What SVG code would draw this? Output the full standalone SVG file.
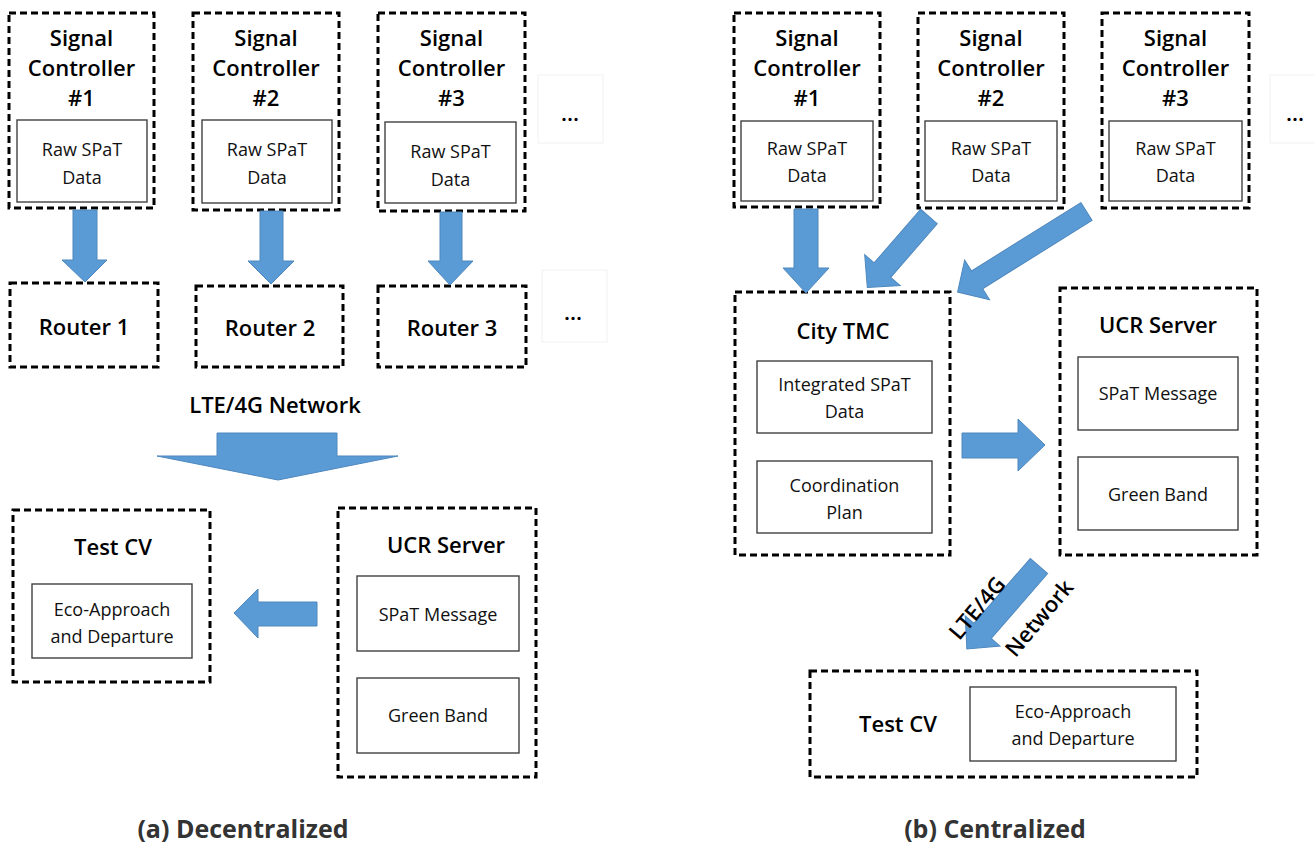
<svg xmlns="http://www.w3.org/2000/svg" width="1315" height="846" viewBox="0 0 1315 846">
  <style>
    .dash { fill: #fff; stroke: #000; stroke-width: 3; stroke-dasharray: 7 4; }
    .inner { fill: #fff; stroke: #404040; stroke-width: 1.4; }
    .faint { fill: none; stroke: #f1f1f1; stroke-width: 1; }
    .arrow { fill: #5B9BD5; stroke: #4F88BE; stroke-width: 1; }
    text { font-family: "Open Sans", "Liberation Sans", sans-serif; text-anchor: middle; }
    .ttl { font-size: 22px; font-weight: 600; fill: #000; }
    .txt { font-size: 18px; font-weight: 400; fill: #111; }
    .cap { font-size: 25px; font-weight: 700; fill: #333; }
  </style>

  <!-- ===== (a) Decentralized ===== -->
  <g id="a-sc1">
    <rect class="dash" x="9" y="13" width="145" height="195"/>
    <text class="ttl" x="81.5" y="46">Signal</text>
    <text class="ttl" x="81.5" y="76">Controller</text>
    <text class="ttl" x="81.5" y="106">#1</text>
    <rect class="inner" x="17" y="120" width="130" height="82"/>
    <text class="txt" x="82" y="156">Raw SPaT</text>
    <text class="txt" x="82" y="184">Data</text>
  </g>
  <g id="a-sc2">
    <rect class="dash" x="193" y="13" width="146" height="197"/>
    <text class="ttl" x="266" y="46">Signal</text>
    <text class="ttl" x="266" y="76">Controller</text>
    <text class="ttl" x="266" y="106">#2</text>
    <rect class="inner" x="202" y="120" width="130" height="83"/>
    <text class="txt" x="267" y="156">Raw SPaT</text>
    <text class="txt" x="267" y="184">Data</text>
  </g>
  <g id="a-sc3">
    <rect class="dash" x="378" y="13" width="147" height="198"/>
    <text class="ttl" x="451.5" y="46">Signal</text>
    <text class="ttl" x="451.5" y="76">Controller</text>
    <text class="ttl" x="451.5" y="106">#3</text>
    <rect class="inner" x="385" y="122" width="131" height="81"/>
    <text class="txt" x="450.5" y="158">Raw SPaT</text>
    <text class="txt" x="450.5" y="186">Data</text>
  </g>
  <g id="a-more-sc">
    <rect class="faint" x="538" y="75" width="65" height="68"/>
    <text class="ttl" x="570" y="121">...</text>
  </g>

  <g id="a-router1">
    <rect class="dash" x="10" y="283" width="148" height="84"/>
    <text class="ttl" x="84" y="335">Router 1</text>
  </g>
  <g id="a-router2">
    <rect class="dash" x="196" y="286" width="147" height="81"/>
    <text class="ttl" x="270" y="336">Router 2</text>
  </g>
  <g id="a-router3">
    <rect class="dash" x="378" y="286" width="148" height="81"/>
    <text class="ttl" x="452" y="336">Router 3</text>
  </g>
  <g id="a-more-router">
    <rect class="faint" x="542" y="270" width="65" height="72"/>
    <text class="ttl" x="573" y="320">...</text>
  </g>

  <g id="a-test-cv">
    <rect class="dash" x="13" y="510" width="197" height="172"/>
    <text class="ttl" x="113" y="555">Test CV</text>
    <rect class="inner" x="32" y="584" width="160" height="74"/>
    <text class="txt" x="112" y="616">Eco-Approach</text>
    <text class="txt" x="112" y="643">and Departure</text>
  </g>
  <g id="a-ucr-server">
    <rect class="dash" x="338" y="508" width="198" height="269"/>
    <text class="ttl" x="446" y="553">UCR Server</text>
    <rect class="inner" x="357" y="576" width="162" height="75"/>
    <text class="txt" x="438" y="621">SPaT Message</text>
    <rect class="inner" x="357" y="678" width="162" height="75"/>
    <text class="txt" x="438" y="722">Green Band</text>
  </g>

  <g id="a-connectors">
    <polygon class="arrow" points="73,210 97,210 97,260 107,260 85,282 62,260 73,260"/>
    <polygon class="arrow" points="260,211 283,211 283,261 294,261 271,284 248,261 260,261"/>
    <polygon class="arrow" points="440,212 462,212 462,261 473,261 450,285 428,261 440,261"/>
    <polygon class="arrow" points="217,433 337,433 337,456 398,456 278,480 157,456 217,456"/>
    <polygon class="arrow" points="317,602 317,626 258,626 258,638 234,613 258,589 258,602"/>
  </g>
  <text class="ttl" x="275" y="413">LTE/4G Network</text>
  <text class="cap" x="243" y="838">(a) Decentralized</text>

  <!-- ===== (b) Centralized ===== -->
  <g id="b-sc1">
    <rect class="dash" x="734" y="13" width="146" height="194"/>
    <text class="ttl" x="807" y="46">Signal</text>
    <text class="ttl" x="807" y="76">Controller</text>
    <text class="ttl" x="807" y="106">#1</text>
    <rect class="inner" x="741" y="121" width="132" height="80"/>
    <text class="txt" x="807" y="155">Raw SPaT</text>
    <text class="txt" x="807" y="182">Data</text>
  </g>
  <g id="b-sc2">
    <rect class="dash" x="918" y="13" width="146" height="195"/>
    <text class="ttl" x="991" y="46">Signal</text>
    <text class="ttl" x="991" y="76">Controller</text>
    <text class="ttl" x="991" y="106">#2</text>
    <rect class="inner" x="925" y="121" width="132" height="80"/>
    <text class="txt" x="991" y="155">Raw SPaT</text>
    <text class="txt" x="991" y="182">Data</text>
  </g>
  <g id="b-sc3">
    <rect class="dash" x="1102" y="13" width="147" height="195"/>
    <text class="ttl" x="1175.5" y="46">Signal</text>
    <text class="ttl" x="1175.5" y="76">Controller</text>
    <text class="ttl" x="1175.5" y="106">#3</text>
    <rect class="inner" x="1109" y="121" width="133" height="80"/>
    <text class="txt" x="1175.5" y="155">Raw SPaT</text>
    <text class="txt" x="1175.5" y="182">Data</text>
  </g>
  <g id="b-more-sc">
    <rect class="faint" x="1270" y="75" width="50" height="68"/>
    <text class="ttl" x="1295" y="121">...</text>
  </g>

  <g id="b-city-tmc">
    <rect class="dash" x="735" y="292" width="215" height="263"/>
    <text class="ttl" x="843" y="339">City TMC</text>
    <rect class="inner" x="757" y="361" width="175" height="72"/>
    <text class="txt" x="844.5" y="391">Integrated SPaT</text>
    <text class="txt" x="844.5" y="418">Data</text>
    <rect class="inner" x="757" y="461" width="175" height="72"/>
    <text class="txt" x="844.5" y="492">Coordination</text>
    <text class="txt" x="844.5" y="519">Plan</text>
  </g>
  <g id="b-ucr-server">
    <rect class="dash" x="1060" y="288" width="197" height="267"/>
    <text class="ttl" x="1158" y="333">UCR Server</text>
    <rect class="inner" x="1078" y="357" width="160" height="73"/>
    <text class="txt" x="1158" y="400">SPaT Message</text>
    <rect class="inner" x="1078" y="457" width="160" height="73"/>
    <text class="txt" x="1158" y="501">Green Band</text>
  </g>
  <g id="b-test-cv">
    <rect class="dash" x="810" y="671" width="387" height="106"/>
    <text class="ttl" x="898" y="732">Test CV</text>
    <rect class="inner" x="970" y="687" width="206" height="74"/>
    <text class="txt" x="1073" y="718">Eco-Approach</text>
    <text class="txt" x="1073" y="745">and Departure</text>
  </g>

  <g id="b-connectors">
    <polygon class="arrow" points="794,209 818,209 818,268 829,268 806,293 783,268 794,268"/>
    <polygon class="arrow" transform="translate(929,216.5) rotate(131)" points="0,-11 71,-11 71,-23.5 94,0 71,23.5 71,11 0,11"/>
    <polygon class="arrow" transform="translate(1086.5,211.5) rotate(148)" points="0,-10.5 129,-10.5 129,-23.5 152,0 129,23.5 129,10.5 0,10.5"/>
    <polygon class="arrow" points="962,433 1018,433 1018,419 1045,445 1018,471 1018,458 962,458"/>
    <polygon class="arrow" transform="translate(1039,566) rotate(131)" points="0,-11.5 86,-11.5 86,-23 110,0 86,23 86,11.5 0,11.5"/>
  </g>
  <text class="ttl" transform="translate(983,613) rotate(-50)" x="0" y="0">LTE/4G</text>
  <text class="ttl" transform="translate(1045,623) rotate(-50)" x="0" y="0">Network</text>
  <text class="cap" x="995" y="838">(b) Centralized</text>
</svg>
